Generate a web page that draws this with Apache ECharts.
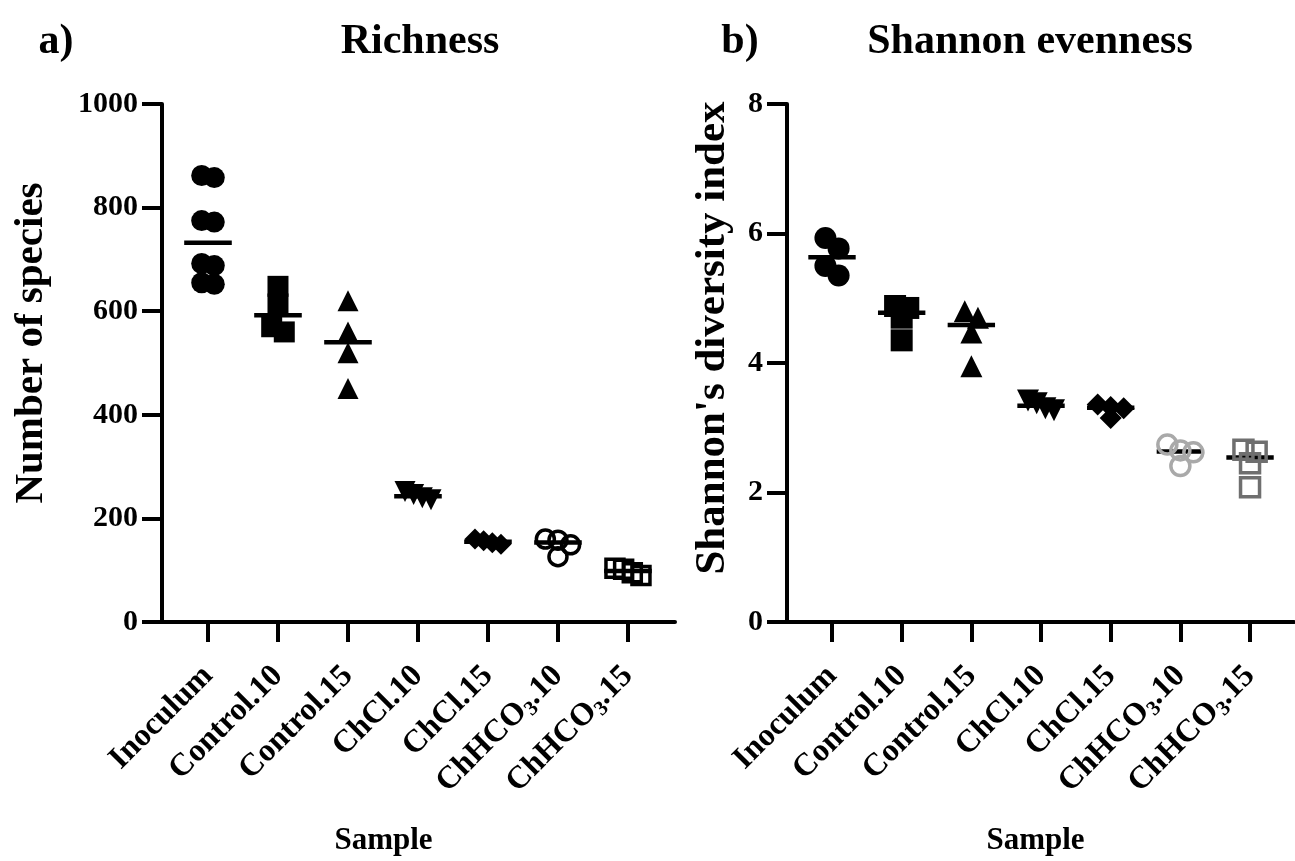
<!DOCTYPE html>
<html>
<head>
<meta charset="utf-8">
<title>Richness and Shannon evenness</title>
<style>
  html, body { margin: 0; padding: 0; background: #fff; }
  #main { width: 1295px; height: 861px; }
</style>
</head>
<body>
<div id="main"></div>
<script src="https://cdn.jsdelivr.net/npm/echarts@6/dist/echarts.min.js"></script>
<script>
// ---- data ----
var samples = ['Inoculum', 'Control.10', 'Control.15', 'ChCl.10', 'ChCl.15', 'ChHCO3.10', 'ChHCO3.15'];
var sampleLabels = ['{n|Inoculum}', '{n|Control.10}', '{n|Control.15}', '{n|ChCl.10}', '{n|ChCl.15}',
  '{n|ChHCO}{s|3}{n|.10}', '{n|ChHCO}{s|3}{n|.15}'];

// richness (number of species)
var richInoculum = [862, 858, 775, 772, 692, 688, 655, 652];
var richControl10 = [648, 614, 570, 560];
var richControl15 = [620, 560, 520, 451];
var richChCl10 = [252, 246, 240, 236];
var richChCl15 = [160, 157, 153, 150];
var richChHCO310 = [160, 158, 149, 126];
var richChHCO315 = [104, 102, 95, 90];

// Shannon's diversity index
var shanInoculum = [5.93, 5.77, 5.50, 5.35];
var shanControl10 = [4.88, 4.85, 4.70, 4.35];
var shanControl15 = [4.80, 4.70, 4.47, 3.95];
var shanChCl10 = [3.42, 3.38, 3.30, 3.27];
var shanChCl15 = [3.36, 3.32, 3.30, 3.15];
var shanChHCO310 = [2.74, 2.65, 2.62, 2.41];
var shanChHCO315 = [2.66, 2.63, 2.45, 2.08];

var richness = [richInoculum, richControl10, richControl15, richChCl10, richChCl15, richChHCO310, richChHCO315];
var shannon = [shanInoculum, shanControl10, shanControl15, shanChCl10, shanChCl15, shanChHCO310, shanChHCO315];

// ---- styles ----
var FONT = '"Liberation Serif", "Times New Roman", serif';
var markers = [
  { symbol: 'circle', fill: true },
  { symbol: 'rect', fill: true },
  { symbol: 'triangle', fill: true },
  { symbol: 'triangle', fill: true, rotate: 180 },
  { symbol: 'diamond', fill: true },
  { symbol: 'circle', fill: false },
  { symbol: 'rect', fill: false }
];
var richColors = ['#000', '#000', '#000', '#000', '#000', '#000', '#000'];
var shanColors = ['#000', '#000', '#000', '#000', '#000', '#a9a9a9', '#6f6f6f'];

function median(arr) {
  var s = arr.slice().sort(function (a, b) { return a - b; });
  var m = Math.floor(s.length / 2);
  return s.length % 2 ? s[m] : (s[m - 1] + s[m]) / 2;
}

// horizontal spreading of overlapping points (column scatter), in category units
function spread(vals, pxPerUnit, bandPx, size) {
  var order = vals.map(function (v, i) { return i; })
    .sort(function (a, b) { return vals[b] - vals[a]; });
  var rows = [];
  order.forEach(function (i) {
    var row = rows[rows.length - 1];
    if (row && (vals[row[0]] - vals[i]) * pxPerUnit < size * 0.5) row.push(i);
    else rows.push([i]);
  });
  var offs = [];
  rows.forEach(function (row) {
    var step = row.length > 1 ? Math.min(size * 0.6, 26 / (row.length - 1)) : 0;
    row.forEach(function (i, j) {
      offs[i] = (j - (row.length - 1) / 2) * step / bandPx;
    });
  });
  return offs;
}

var panels = [
  { grid: { left: 162, top: 104, width: 513, height: 518 }, xMin: -0.657, xMax: 6.672,
    yMax: 1000, yInterval: 200, yName: 'Number of species', yNameGap: 110, yNameSize: 41, yNameShift: 40,
    xNameShift: 70,
    values: richness, colors: richColors, size: 21, title: 'Richness', tag: 'a)', titleX: 420, tagX: 56 },
  { grid: { left: 787, top: 104, width: 507, height: 518 }, xMin: -0.646, xMax: 6.631,
    yMax: 8, yInterval: 2, yName: "Shannon's diversity index", yNameGap: 53, yNameSize: 43, yNameShift: 50,
    xNameShift: 10,
    values: shannon, colors: shanColors, size: 22, title: 'Shannon evenness', tag: 'b)', titleX: 1030, tagX: 740 }
];

var labelText = { color: '#000', fontFamily: FONT, fontWeight: 'bold' };
var grids = [], xAxes = [], yAxes = [], series = [], graphics = [];

panels.forEach(function (p, k) {
  grids.push(p.grid);
  var bandPx = p.grid.width / (p.xMax - p.xMin);
  var pxPerUnit = p.grid.height / p.yMax;
  var idx = samples.map(function (s, i) { return i; });

  xAxes.push({
    type: 'value', gridIndex: k, min: p.xMin, max: p.xMax,
    splitLine: { show: false },
    axisLine: { show: true, onZero: false, lineStyle: { color: '#000', width: 4 } },
    axisTick: { show: true, customValues: idx, length: 20, lineStyle: { color: '#000', width: 4 } },
    axisLabel: {
      customValues: idx, rotate: 45, margin: 49,
      formatter: function (v) { return sampleLabels[Math.round(v)]; },
      rich: {
        n: Object.assign({ fontSize: 32, lineHeight: 38 }, labelText),
        s: Object.assign({ fontSize: 21, lineHeight: 21, verticalAlign: 'bottom' }, labelText)
      }
    },
    name: 'Sample', nameLocation: 'middle', nameGap: 203,
    nameTextStyle: Object.assign({ fontSize: 31, padding: [0, p.xNameShift, 0, 0] }, labelText)
  });

  yAxes.push({
    type: 'value', gridIndex: k, min: 0, max: p.yMax, interval: p.yInterval,
    splitLine: { show: false },
    axisLine: { show: true, onZero: false, lineStyle: { color: '#000', width: 4 } },
    axisTick: { show: true, length: 20, lineStyle: { color: '#000', width: 4 } },
    axisLabel: Object.assign({ fontSize: 30, margin: 24, formatter: function (v) { return String(v); } }, labelText),
    name: p.yName, nameLocation: 'middle', nameGap: p.yNameGap,
    nameTextStyle: Object.assign({ fontSize: p.yNameSize, padding: [0, 0, 0, p.yNameShift] }, labelText)
  });

  // median lines
  series.push({
    type: 'custom', xAxisIndex: k, yAxisIndex: k, z: 1, silent: true,
    data: p.values.map(function (vals, i) { return [i, median(vals)]; }),
    renderItem: function (params, api) {
      var a = api.coord([api.value(0) - 0.34, api.value(1)]);
      var b = api.coord([api.value(0) + 0.34, api.value(1)]);
      return { type: 'line', shape: { x1: a[0], y1: a[1], x2: b[0], y2: b[1] },
        style: { stroke: '#000', lineWidth: 4.5 } };
    }
  });

  // points
  p.values.forEach(function (vals, i) {
    var m = markers[i];
    var offs = spread(vals, pxPerUnit, bandPx, p.size);
    var col = p.colors[i];
    series.push({
      type: 'scatter', name: samples[i], xAxisIndex: k, yAxisIndex: k, z: 3,
      symbol: m.symbol, symbolRotate: m.rotate || 0,
      symbolSize: m.fill ? p.size : p.size - 3,
      itemStyle: m.fill ? { color: col, opacity: 1 }
        : { color: 'rgba(0,0,0,0)', borderColor: col, borderWidth: 3.5, opacity: 1 },
      data: vals.map(function (v, j) { return [i + offs[j], v]; })
    });
  });

  graphics.push({ type: 'text', x: p.tagX, y: 42,
    style: { text: p.tag, font: 'bold 42px ' + FONT, fill: '#000', align: 'center', verticalAlign: 'middle' } });
  graphics.push({ type: 'text', x: p.titleX, y: 42,
    style: { text: p.title, font: 'bold 42px ' + FONT, fill: '#000', align: 'center', verticalAlign: 'middle' } });
});

var chart = echarts.init(document.getElementById('main'));
chart.setOption({
  backgroundColor: '#fff',
  animation: false,
  grid: grids,
  xAxis: xAxes,
  yAxis: yAxes,
  series: series,
  graphic: graphics
});
</script>
</body>
</html>
